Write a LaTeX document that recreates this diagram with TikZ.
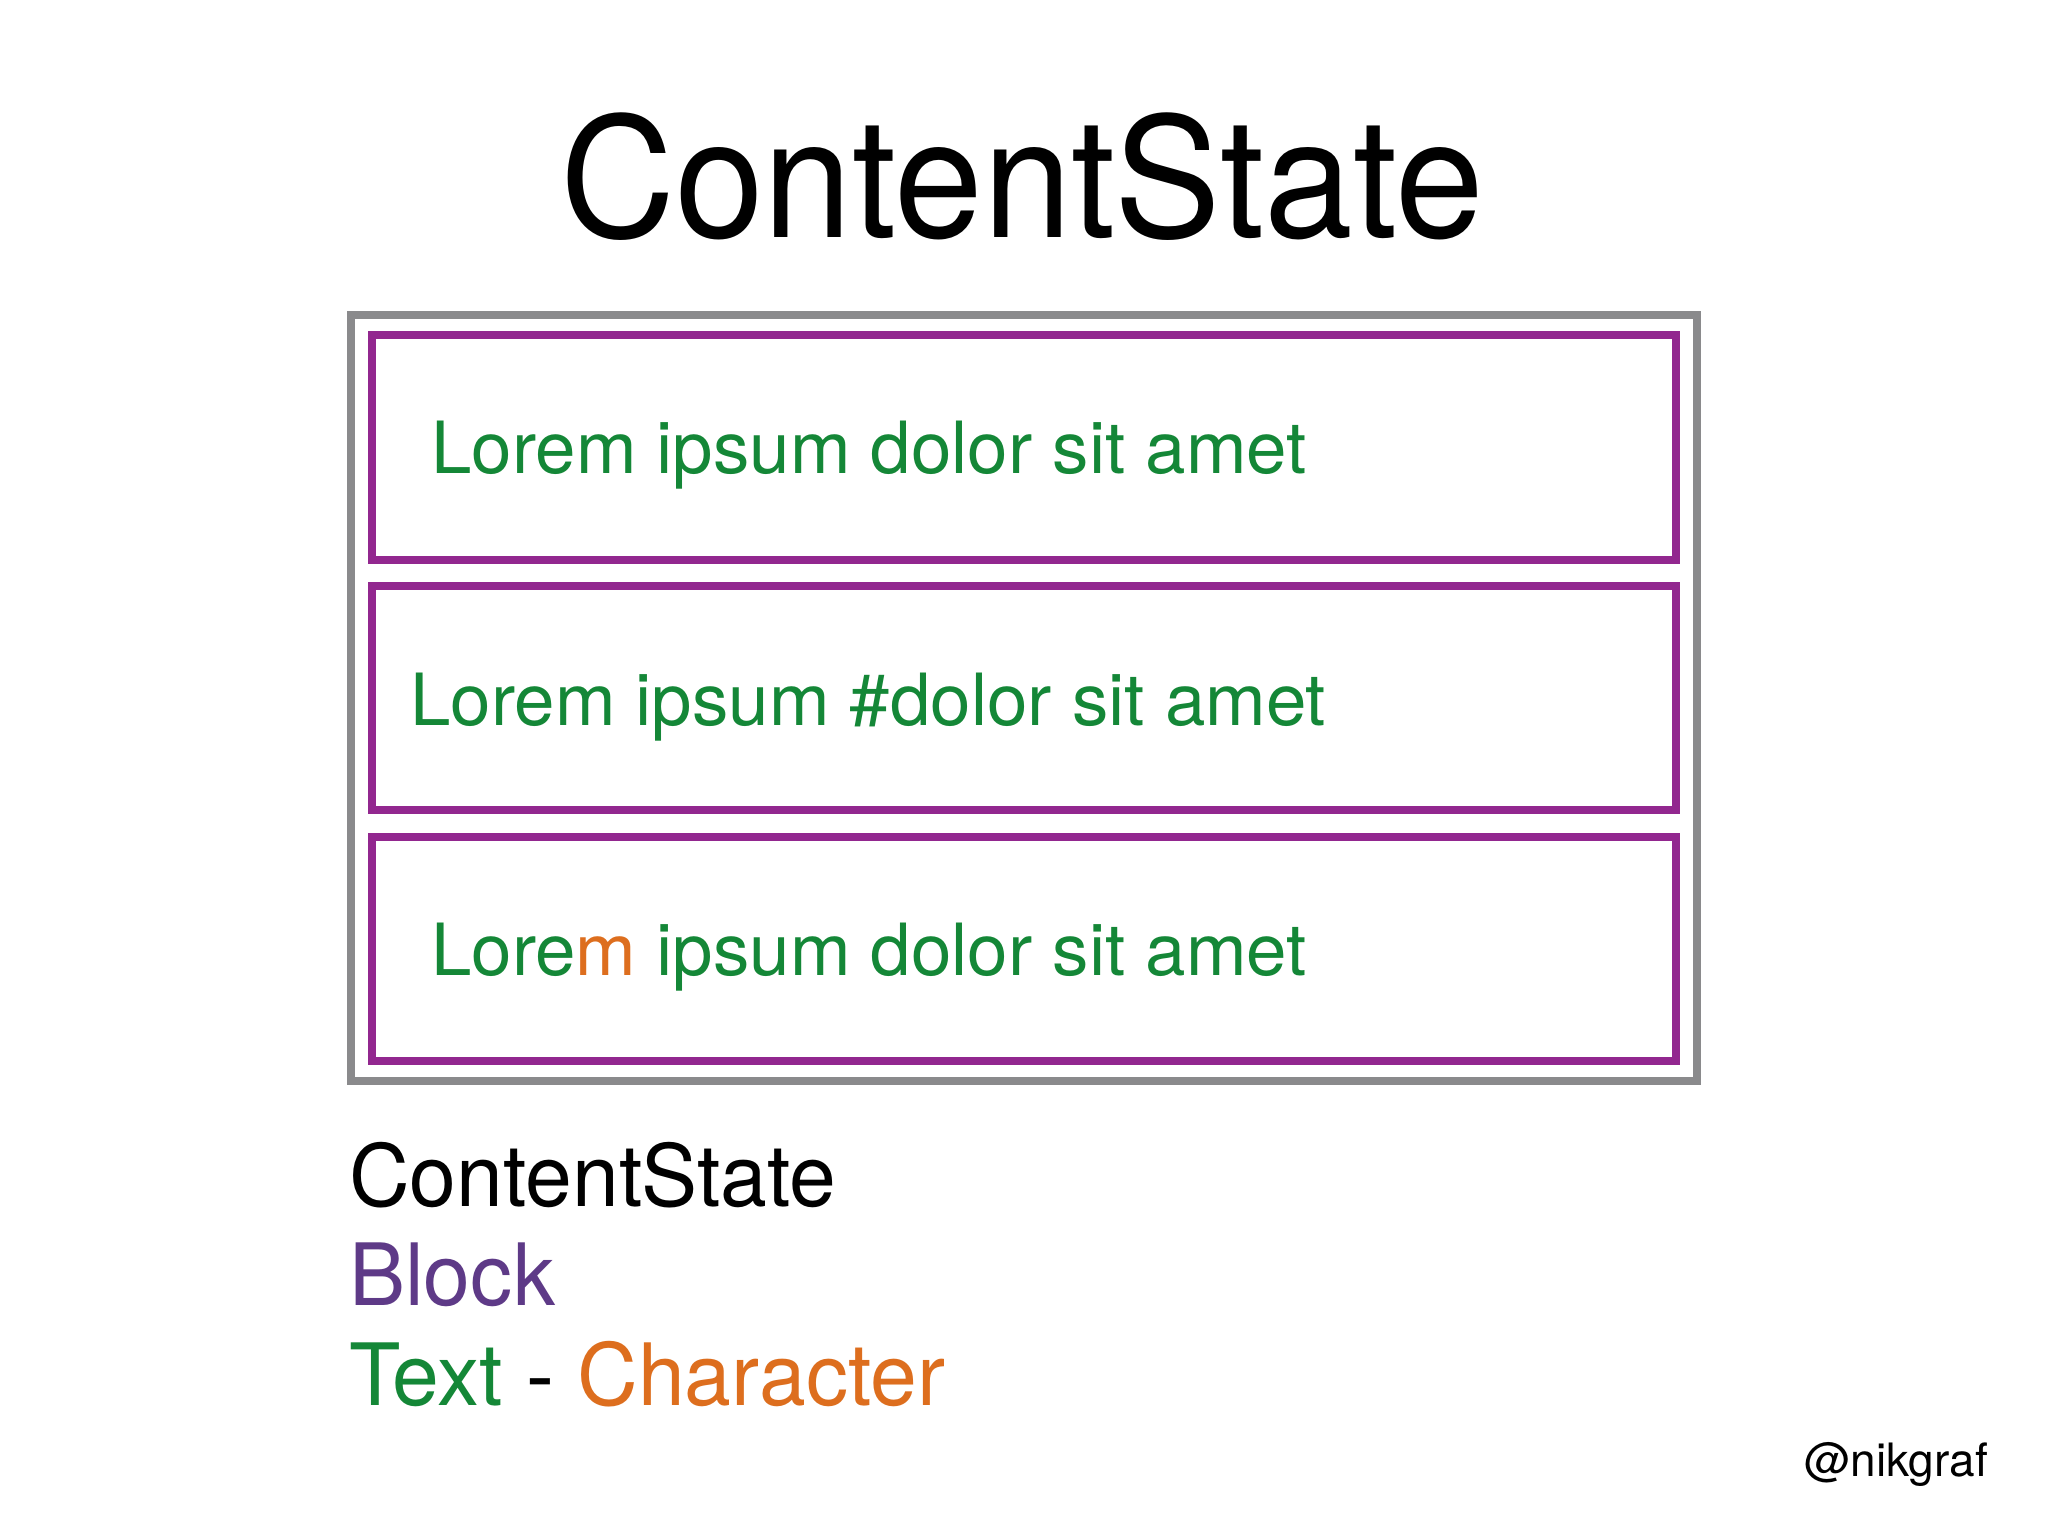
\documentclass[tikz,border=0pt]{standalone}
\usepackage{fontspec}
\setmainfont{TeX Gyre Heros}
\newfontfamily\titlefont[FakeStretch=0.955]{TeX Gyre Heros}
\newfontfamily\legendfont[FakeStretch=0.978]{TeX Gyre Heros}
\newfontfamily\loremfont[FakeStretch=1.01]{TeX Gyre Heros}
\definecolor{framegray}{RGB}{138,138,140}
\definecolor{blockpurple}{RGB}{146,39,143}
\definecolor{legendpurple}{RGB}{94,58,135}
\definecolor{textgreen}{RGB}{20,135,55}
\definecolor{charorange}{RGB}{221,110,30}
\tikzset{
  statebox/.style={draw=framegray, line width=8pt, inner sep=0pt, minimum width=1346pt, minimum height=766pt},
  blockbox/.style={draw=blockpurple, line width=8pt, inner sep=0pt, minimum width=1304pt, minimum height=224pt},
  lorem/.style={anchor=base west, inner sep=0pt, text=textgreen, font=\loremfont\fontsize{72pt}{80pt}\selectfont},
  legend/.style={anchor=base west, inner sep=0pt, font=\legendfont\fontsize{86pt}{90pt}\selectfont}
}
\begin{document}
\begin{tikzpicture}[x=1pt,y=1pt]
\useasboundingbox (0,0) rectangle (2048,1536);
\fill[white] (0,0) rectangle (2048,1536);
\node[anchor=base, inner sep=0pt, font=\titlefont\fontsize{167pt}{170pt}\selectfont] (title) at (1022,1298) {ContentState};
\node[statebox] (state) at (1024,838) {};
\node[blockbox, minimum height=225pt] (block1) at (1024,1088.5) {};
\node[blockbox] (block2) at (1024,838) {};
\node[blockbox] (block3) at (1024,587) {};
\node[lorem] (text1) at (431,1062) {Lorem ipsum dolor sit amet};
\node[lorem] (text2) at (410,810) {Lorem ipsum \#dolor sit amet};
\node[lorem] (text3) at (431,560) {Lore\textcolor{charorange}{m} ipsum dolor sit amet};
\node[legend] (lstate) at (349,329) {ContentState};
\node[legend, text=legendpurple] (lblock) at (349,230) {Block};
\node[legend] (lchar) at (349,130) {\textcolor{textgreen}{Text} - \textcolor{charorange}{Character}};
\node[anchor=base east, inner sep=0pt, font=\fontsize{46pt}{50pt}\selectfont] (handle) at (1988,59) {@nikgraf};
\end{tikzpicture}
\end{document}
